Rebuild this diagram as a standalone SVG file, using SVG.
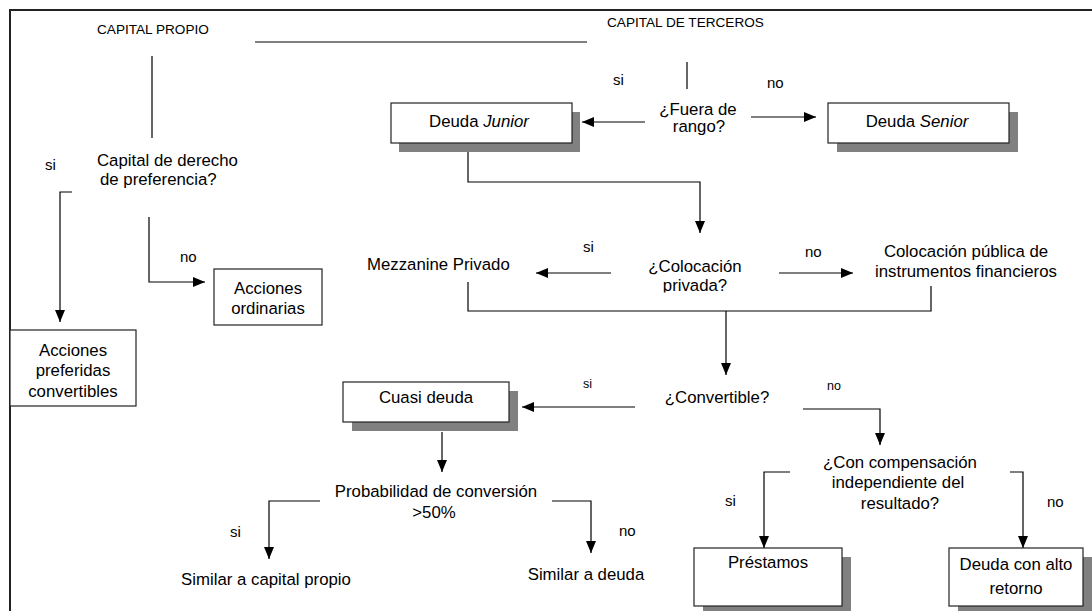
<svg xmlns="http://www.w3.org/2000/svg" width="1092" height="611" viewBox="0 0 1092 611">
<style>
text{font-family:"Liberation Sans",Arial,sans-serif;fill:#000}
.t{font-size:16.8px}
.c{text-anchor:middle}
.h{font-size:13.6px}
.l{font-size:15px}
.s{font-size:12.5px}
.box{fill:#fff;stroke:#222;stroke-width:1.2}
.sh{fill:#808080}
.cn{fill:none;stroke:#000;stroke-width:1.2}
.ar{marker-end:url(#ah)}
</style>
<defs>
<marker id="ah" markerUnits="userSpaceOnUse" markerWidth="12" markerHeight="10" refX="12" refY="5" orient="auto">
<path d="M0,0 L12,5 L0,10 z" fill="#000"/>
</marker>
<clipPath id="clipPriv"><rect x="600" y="240" width="200" height="52.5"/></clipPath>
</defs>
<rect x="10" y="10" width="1100" height="620" fill="#fff" stroke="#222" stroke-width="2"/>

<g id="connectors">
<line class="cn" x1="255" y1="42" x2="587" y2="42"/>
<line class="cn" x1="152" y1="56" x2="152" y2="138"/>
<line class="cn" x1="687" y1="62" x2="687" y2="89"/>
<line class="cn ar" x1="645" y1="122" x2="582" y2="122"/>
<line class="cn ar" x1="751" y1="117" x2="816" y2="117"/>
<polyline class="cn ar" points="468,143 468,182 700,182 700,233"/>
<polyline class="cn ar" points="72,192 60,192 60,322"/>
<polyline class="cn ar" points="149,217 149,282 205,282"/>
<line class="cn ar" x1="611" y1="273" x2="536" y2="273"/>
<line class="cn ar" x1="779" y1="273" x2="853" y2="273"/>
<polyline class="cn" points="468,282 468,311 931,311 931,286"/>
<line class="cn ar" x1="726" y1="311" x2="726" y2="375"/>
<line class="cn ar" x1="635" y1="407" x2="522" y2="407"/>
<polyline class="cn ar" points="803,409 880,409 880,445"/>
<line class="cn ar" x1="442" y1="432" x2="442" y2="472"/>
<polyline class="cn ar" points="320,501 269,501 269,559"/>
<polyline class="cn ar" points="552,501 591,501 591,553"/>
<polyline class="cn ar" points="790,472 764,472 764,548"/>
<polyline class="cn ar" points="1010,472 1023,472 1023,548"/>
</g>

<g id="labels">
<text class="l" x="45" y="170">si</text>
<text class="l" x="180" y="262">no</text>
<text class="l" x="613" y="85">si</text>
<text class="l" x="767" y="88">no</text>
<text class="l" x="583" y="252">si</text>
<text class="l" x="805" y="257">no</text>
<text class="s" x="583" y="388">si</text>
<text class="s" x="827" y="390">no</text>
<text class="l" x="230" y="537">si</text>
<text class="l" x="619" y="536">no</text>
<text class="l" x="725" y="506">si</text>
<text class="l" x="1047" y="507">no</text>
</g>

<g id="capital-propio"><text class="h" x="97" y="34">CAPITAL PROPIO</text></g>
<g id="capital-terceros"><text class="h" x="607" y="27">CAPITAL DE TERCEROS</text></g>

<g id="q-preferencia">
<text class="t" x="97" y="166">Capital de derecho</text>
<text class="t" x="100" y="185">de preferencia?</text>
</g>

<g id="acciones-preferidas">
<rect class="box" x="10" y="330" width="126" height="76"/>
<text class="t c" x="73" y="356">Acciones</text>
<text class="t c" x="73" y="376">preferidas</text>
<text class="t c" x="73" y="397">convertibles</text>
</g>

<g id="acciones-ordinarias">
<rect class="box" x="214" y="269" width="108" height="56"/>
<text class="t c" x="268" y="294">Acciones</text>
<text class="t c" x="268" y="314">ordinarias</text>
</g>

<g id="deuda-junior">
<rect class="sh" x="399" y="112" width="181" height="40"/>
<rect class="box" x="391" y="103" width="181" height="40"/>
<text class="t c" x="479" y="127">Deuda <tspan font-style="italic">Junior</tspan></text>
</g>

<g id="q-fuera-rango">
<text class="t c" x="698" y="115">¿Fuera de</text>
<text class="t c" x="699" y="132">rango?</text>
</g>

<g id="deuda-senior">
<rect class="sh" x="837" y="112" width="181" height="40"/>
<rect class="box" x="828" y="103" width="181" height="40"/>
<text class="t c" x="917" y="127">Deuda <tspan font-style="italic">Senior</tspan></text>
</g>

<g id="mezzanine-privado">
<text class="t" x="367" y="270">Mezzanine Privado</text>
</g>

<g id="q-colocacion">
<text class="t c" x="695" y="272">¿Colocación</text>
<text class="t c" x="695" y="291" clip-path="url(#clipPriv)">privada?</text>
</g>

<g id="colocacion-publica">
<text class="t c" x="966" y="257">Colocación pública de</text>
<text class="t c" x="966" y="277">instrumentos financieros</text>
</g>

<g id="q-convertible">
<text class="t c" x="717" y="403">¿Convertible?</text>
</g>

<g id="cuasi-deuda">
<rect class="sh" x="352" y="391" width="166" height="40"/>
<rect class="box" x="343" y="382" width="166" height="40"/>
<text class="t c" x="426" y="403">Cuasi deuda</text>
</g>

<g id="q-probabilidad">
<text class="t c" x="436" y="497">Probabilidad de conversión</text>
<text class="t c" x="434" y="518">&gt;50%</text>
</g>

<g id="similar-capital"><text class="t c" x="266" y="585">Similar a capital propio</text></g>
<g id="similar-deuda"><text class="t c" x="586" y="580">Similar a deuda</text></g>

<g id="q-compensacion">
<text class="t c" x="900" y="468">¿Con compensación</text>
<text class="t c" x="898" y="488">independiente del</text>
<text class="t c" x="900" y="509">resultado?</text>
</g>

<g id="prestamos">
<rect class="sh" x="703" y="557" width="148" height="58"/>
<rect class="box" x="694" y="548" width="148" height="58"/>
<text class="t c" x="768" y="568">Préstamos</text>
</g>

<g id="deuda-alto-retorno">
<rect class="sh" x="958" y="557" width="134" height="58"/>
<rect class="box" x="949" y="548" width="134" height="58"/>
<text class="t c" x="1016" y="570">Deuda con alto</text>
<text class="t c" x="1016" y="594">retorno</text>
</g>
</svg>
